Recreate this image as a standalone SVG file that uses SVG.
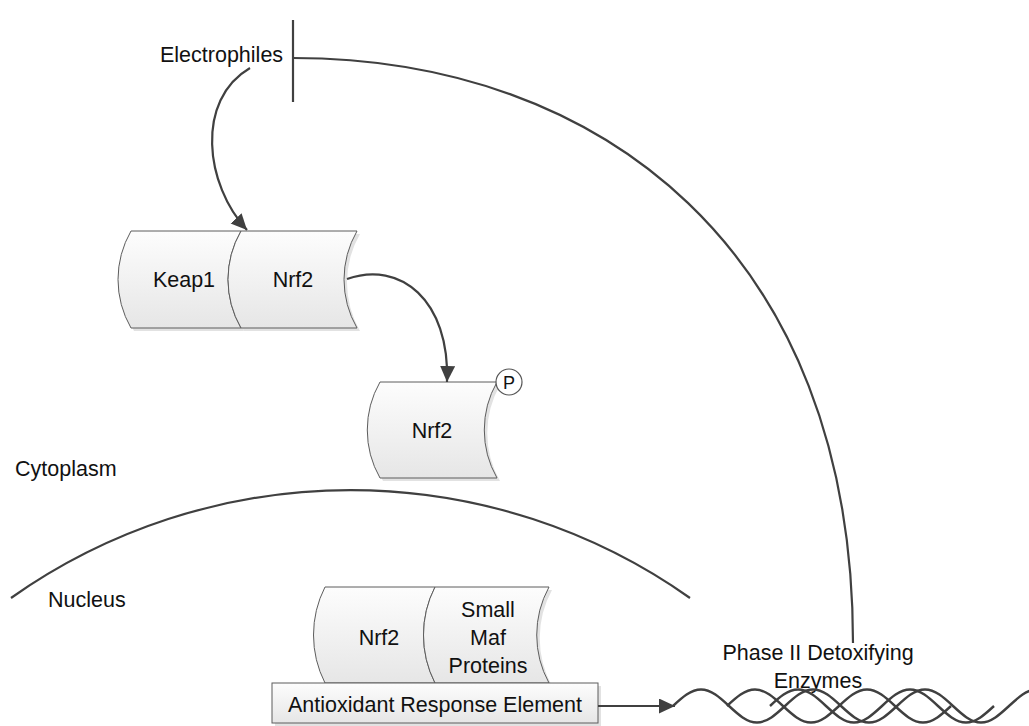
<svg xmlns="http://www.w3.org/2000/svg" width="1029" height="726" viewBox="0 0 1029 726">
  <style>
    text { font-family: "Liberation Sans", Arial, sans-serif; font-size: 21.5px; fill: #111; }
    .mid { text-anchor: middle; }
    .shape { fill: url(#shade); stroke: #5c5c5c; stroke-width: 1; }
    .shadow { fill: #e2e2e2; stroke: none; }
    .link { fill: none; stroke: #404040; stroke-width: 2.2; }
    .strand { fill: none; stroke: #404040; stroke-width: 2.4; }
  </style>
  <defs>
    <linearGradient id="shade" x1="0" y1="0" x2="0" y2="1">
      <stop offset="0" stop-color="#fdfdfd"/>
      <stop offset="1" stop-color="#e6e6e6"/>
    </linearGradient>
    <marker id="arrow" markerUnits="userSpaceOnUse" markerWidth="18" markerHeight="16" refX="16" refY="7.5" orient="auto">
      <path d="M0,0 L16,7.5 L0,15 z" fill="#404040"/>
    </marker>
  </defs>

  <!-- compartment labels and nuclear envelope -->
  <g id="cytoplasm">
    <text x="15" y="476">Cytoplasm</text>
  </g>
  <g id="nucleus">
    <path class="link" d="M11,598 A588,588 0 0 1 690,598"/>
    <text x="48" y="607">Nucleus</text>
  </g>

  <g id="electrophiles">
    <text x="160" y="62">Electrophiles</text>
  </g>

  <!-- Keap1 / Nrf2 complex -->
  <g id="keap1">
    <path class="shadow" d="M134,234 L244,234 A97,97 0 0 0 244,331 L134,331 A97,97 0 0 1 134,234 Z"/>
    <path class="shape" d="M131,231 L241,231 A97,97 0 0 0 241,328 L131,328 A97,97 0 0 1 131,231 Z"/>
    <text class="mid" x="184" y="287">Keap1</text>
  </g>
  <g id="nrf2-bound">
    <path class="shadow" d="M244,234 L360,234 A97,97 0 0 0 360,331 L244,331 A97,97 0 0 1 244,234 Z"/>
    <path class="shape" d="M241,231 L357,231 A97,97 0 0 0 357,328 L241,328 A97,97 0 0 1 241,231 Z"/>
    <text class="mid" x="293" y="287">Nrf2</text>
  </g>

  <!-- phosphorylated Nrf2 -->
  <g id="nrf2-phospho">
    <path class="shadow" d="M383,385 L500,385 A97,97 0 0 0 500,481 L383,481 A97,97 0 0 1 383,385 Z"/>
    <path class="shape" d="M380,382 L497,382 A97,97 0 0 0 497,478 L380,478 A97,97 0 0 1 380,382 Z"/>
    <text class="mid" x="432" y="438">Nrf2</text>
    <circle cx="509" cy="382" r="13" fill="#fff" stroke="#555" stroke-width="1.2"/>
    <text class="mid" x="509" y="389" style="font-size:18px">P</text>
  </g>

  <!-- nuclear Nrf2 / small Maf dimer -->
  <g id="nrf2-nuclear">
    <path class="shadow" d="M328,590 L438,590 A106,106 0 0 0 438,686 L328,686 A106,106 0 0 1 328,590 Z"/>
    <path class="shape" d="M325,587 L435,587 A106,106 0 0 0 435,683 L325,683 A106,106 0 0 1 325,587 Z"/>
    <text class="mid" x="379" y="645">Nrf2</text>
  </g>
  <g id="small-maf">
    <path class="shadow" d="M438,590 L552,590 A100,100 0 0 0 552,686 L438,686 A106,106 0 0 1 438,590 Z"/>
    <path class="shape" d="M435,587 L549,587 A100,100 0 0 0 549,683 L435,683 A106,106 0 0 1 435,587 Z"/>
    <text class="mid" x="488" y="617">Small</text>
    <text class="mid" x="488" y="645">Maf</text>
    <text class="mid" x="488" y="673">Proteins</text>
  </g>

  <g id="are">
    <rect class="shadow" x="275" y="686" width="326" height="40"/>
    <rect class="shape" x="272" y="683" width="326" height="40"/>
    <text class="mid" x="435" y="712">Antioxidant Response Element</text>
  </g>

  <!-- target genes drawn as a twisted DNA helix -->
  <g id="phase2-genes">
    <text class="mid" x="818" y="660">Phase II Detoxifying</text>
    <text class="mid" x="818" y="688">Enzymes</text>
    <path class="strand" d="M673,706 c9.13,-8.453 17.87,-16.5 28,-16.5 s18.87,8.047 28,16.5 s17.87,16.5 28,16.5 s18.87,-8.047 28,-16.5
      s17.87,-16.5 28,-16.5 s18.87,8.047 28,16.5 s17.87,16.5 28,16.5 s18.87,-8.047 28,-16.5
      s17.87,-16.5 28,-16.5 s18.87,8.047 28,16.5 s17.87,16.5 28,16.5 s18.87,-8.047 28,-16.5
      s17.87,-16.5 28,-16.5"/>
    <path class="strand" d="M727,706 c9.13,-8.453 17.87,-16.5 28,-16.5 s18.87,8.047 28,16.5 s17.87,16.5 28,16.5 s18.87,-8.047 28,-16.5
      s17.87,-16.5 28,-16.5 s18.87,8.047 28,16.5 s17.87,16.5 28,16.5 s18.87,-8.047 28,-16.5"/>
    <path class="strand" d="M770,706 c9.13,-8.453 17.87,-16.5 28,-16.5 s18.87,8.047 28,16.5 s17.87,16.5 28,16.5 s18.87,-8.047 28,-16.5
      s17.87,-16.5 28,-16.5 s18.87,8.047 28,16.5 s17.87,16.5 28,16.5 s18.87,-8.047 28,-16.5"/>
  </g>

  <g id="connectors">
    <!-- electrophiles act on the Keap1-Nrf2 complex -->
    <path class="link" d="M250,68 C195,100 205,185 247,230" marker-end="url(#arrow)"/>
    <!-- Nrf2 release and phosphorylation -->
    <path class="link" d="M347,279 C400,260 450,300 447,382" marker-end="url(#arrow)"/>
    <!-- ARE drives transcription -->
    <path class="link" d="M598,706 L675,706" marker-end="url(#arrow)"/>
    <!-- enzyme products inhibit electrophiles -->
    <path class="link" d="M293,20 L293,102"/>
    <path class="link" d="M293,58 C600,58 853,250 853,643"/>
  </g>
</svg>
